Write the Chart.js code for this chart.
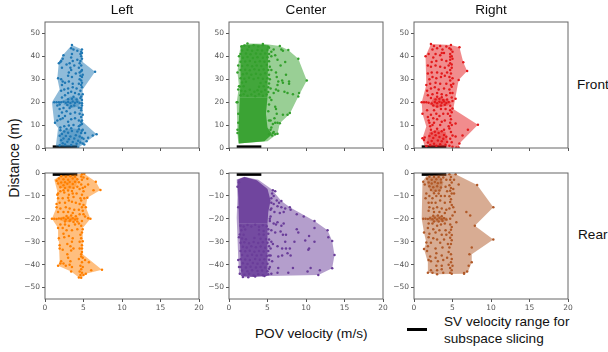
<!DOCTYPE html>
<html>
<head>
<meta charset="utf-8">
<script src="https://cdn.jsdelivr.net/npm/chart.js@4"></script>
<style>
  html, body { margin: 0; background: #fff; }
  body { width: 608px; height: 352px; position: relative; overflow: hidden; font-family: "Liberation Sans", sans-serif; color: #111; }
  canvas { position: absolute; }
  .t { position: absolute; font-size: 13.6px; white-space: nowrap; line-height: 17px; }
</style>
</head>
<body>
<div class="t" style="left:255px;top:325px">POV velocity (m/s)</div>
<div class="t" style="left:444px;top:313px">SV velocity range for<br>subspace slicing</div>
<div class="t" style="left:577px;top:76px">Front</div>
<div class="t" style="left:578px;top:226px">Rear</div>
<div class="t" style="left:14px;top:158px;font-size:14px;transform:translate(-50%,-50%) rotate(-90deg)">Distance (m)</div>
<div style="position:absolute;left:407px;top:328px;width:20px;height:3px;background:#000"></div>
<script>
const xTicks = [0, 5, 10, 15, 20];
const frontTicks = [0, 10, 20, 30, 40, 50];
const rearTicks = [0, -10, -20, -30, -40, -50];
const svRange = [1, 4.2];

const leftFrontHull = [[1.4,0.7],[4.3,0],[6.7,6],[4.9,11.5],[4.9,25.5],[6.5,33.3],[4.9,37.5],[4.8,43],[3.5,45],[2.3,40.5],[1.8,37.5],[1.6,30.5],[1.9,25.5],[0.9,20],[1.2,11],[1.7,8.7]];
const leftFrontBlobs = [
  [[1.9,1],[4.5,1],[4.8,4],[4.7,8],[3.8,8.5],[2.4,8],[1.9,6]],
  [[2.4,19],[3.4,17.5],[4.3,18],[4.6,20],[4.2,22],[3.3,22.5],[2.5,21]]
];
const leftFrontPoints = [[4.9,2],[5,4],[5.4,3],[5.6,4.5],[6.2,5.5],[6.7,6],[4.3,0.2],[5.1,1.5],[5.2,6.5],[4.9,8],[2,9],[2.5,9.5],[3.1,9.8],[3.7,10],[4.4,9.5],[4.8,10.5],[1.3,11],[1.6,12],[2,12.5],[2.3,13],[2.6,14],[3,11.5],[3.4,12.5],[3.9,13],[4.4,12],[4.7,13.5],[1.8,14],[2.2,15.5],[2.8,16],[3.3,15],[3.9,15.5],[4.5,15],[4.7,16.5],[1.9,17],[2.4,17.5],[1.6,18.5],[1.9,19],[4.8,18.5],[4.8,21],[1.2,20],[1.5,20],[1.8,20],[2.1,20],[2.4,20.2],[2.2,22],[2.6,23],[3,24],[3.4,24.5],[3.9,24],[4.4,23.5],[4.7,22.5],[2.1,25],[2.5,25.5],[3,26],[3.6,26.5],[4.1,26],[4.6,25],[4.8,26.5],[4.7,27.5],[4.4,28],[2.2,27.5],[2.6,28.5],[3.1,29],[3.6,28],[4.5,30],[4.6,31.5],[1.7,30.5],[2.1,30],[2.3,29],[3,31.5],[3.5,31],[4,32.5],[4.5,33],[4.8,34],[6.5,33.3],[3.1,33],[3.4,34],[3.3,35],[4.4,35],[4.7,36],[4.5,37],[2.2,35],[3.2,37],[3.6,38],[4.2,38.5],[2,37.5],[1.8,37],[2.1,38],[2.3,39],[2.4,40.5],[3.4,39.5],[3.5,41],[4.7,40],[4.8,41.5],[4.8,43],[4.7,42],[3.5,45],[3.4,43.5],[3.7,43],[4.2,42.5],[3.8,36],[2.8,36.5],
  [1.9,1.2],[2.3,2.1],[2.1,3.4],[2.6,1.5],[2.9,2.7],[2.4,4.2],[1.9,5.3],[2.2,6.1],[2.7,5.2],[3.1,3.8],[3.4,1.3],[3.6,2.6],[3.3,5],[3.8,4.1],[4.1,1.9],[4.3,3.2],[4,5.6],[4.5,5],[4.6,2.4],[4.7,6.6],[2.5,7.2],[3,6.7],[3.5,7.4],[4.2,7.2],[2,7.8],[2.8,8.3],[3.4,8.6],[4.4,8.2],[4.8,4.5],[4.8,7.5],[2.7,19.8],[3,20.1],[3.3,19.6],[3.6,20.3],[3.9,19.7],[4.2,20.2],[4.5,19.6],[2.9,18.8],[3.4,18.2],[3.8,18.6],[4.1,21.2],[3.5,21.5],[3,21.3],[3.7,22.4],[3.2,17.5],[4.4,17.6],[4.6,21.8],[4.8,12],[4.9,14.5],[4.7,17.5],[4.8,19.5],[4.9,23.5],[4.8,28.5],[4.7,29.5],[4.8,31],[4.9,32],[4.7,33.5],[4.6,38],[4.8,39],[4.6,41],[4.7,11.5],[4.6,10]];

const centerFrontHull = [[1.2,2],[5,3],[6.3,6.2],[6.6,10.8],[7.9,15],[9,22.5],[10.1,29.5],[9,39],[7.7,42.8],[6.6,44.5],[4.4,45.5],[2.4,45.6],[1.5,44.6],[1.3,40],[1.1,33],[1.3,27],[1,20],[1.1,6.5]];
const centerFrontBlobs = [
  [[1.3,2],[4.6,3],[5.6,6],[5,9],[4.8,15],[5,22],[1.4,22],[1.2,6]],
  [[1.4,22],[5,22],[5.1,44.8],[3.5,45.3],[1.6,44.8],[1.5,40],[1.5,30]]
];
const centerFrontPoints = [[5.2,6],[5.6,5.5],[6,6],[6.3,6.2],[5.8,7],[5.5,9],[5.7,10.5],[6,11],[6.3,11],[6.6,10.8],[5.4,12],[5.9,13],[6.2,15],[6.1,17],[6,18],[7,14.5],[7.6,14.5],[7.9,15.3],[5.3,22],[5.5,21],[5.8,24],[6.4,25],[7.2,24.5],[7.6,24],[8.3,23.5],[9,22.5],[9.1,24],[6.1,25.5],[5.4,26],[6.4,29],[6.3,27.5],[7,28.5],[7.8,29],[7.8,28],[6.9,29.5],[10.1,29.5],[7.4,32],[6.2,31],[6.1,33],[5.5,34],[6.7,36],[7.3,37.5],[9,39],[6.3,38.5],[6,40.5],[5.5,42],[5.5,40],[6.6,44.5],[6.8,43],[7.7,42.8],[7,42.5],[5.8,43],[1.1,33],[1.2,36],[1.3,40],[1.3,27],[1.2,25.5],[1.1,20],[1,20],[1.1,8],[1.1,6.5],[1.2,11],[1.2,15],
  [1.5,23],[1.9,23.5],[2.4,22.8],[2.9,23.4],[3.4,22.6],[3.9,23.5],[4.4,22.8],[4.9,23.3],[1.6,25],[2.1,24.8],[2.7,25.4],[3.3,24.6],[3.7,25.2],[4.2,24.6],[4.7,25.3],[5.1,24.4],[1.4,26.8],[1.9,27],[3.9,26.7],[4.5,27],[5.1,26.5],[1.7,28.6],[2.2,28.9],[4.1,28.4],[4.8,28.8],[5.2,28.2],[1.5,30.4],[2,30.2],[2.6,30.7],[3.2,30.1],[3.8,30.6],[4.4,30.2],[5,30.5],[1.8,32.2],[2.3,32.5],[2.9,32],[3.5,32.4],[4.1,32.1],[4.7,32.6],[5.2,32],[1.5,34],[2.1,34.2],[2.7,33.9],[3.3,34.4],[3.9,34],[4.5,34.3],[5.1,34.1],[1.7,35.8],[2.4,36.1],[3,35.7],[3.6,36],[4.2,35.8],[4.9,36.2],[1.5,37.6],[2.1,37.8],[2.7,38],[3.4,37.5],[4,37.9],[4.6,37.6],[5.2,37.9],[1.8,39.4],[2.4,39.7],[3.1,39.3],[3.7,39.6],[4.4,39.4],[5,39.6],[1.5,41],[2.2,41.3],[2.8,40.9],[3.5,41.2],[4.1,41],[4.7,41.3],[1.7,42.6],[2.4,42.9],[3,42.5],[3.7,42.8],[4.3,42.6],[5,42.9],[1.6,44.3],[2,44.7],[2.6,44.2],[3.2,44.9],[3.8,44.3],[4.4,44.8],[5.1,44.2],[2.4,45.6],[4.4,45.4],[5.2,43.8],[5.2,41],[5.3,35.5],[5.3,30],[5.2,19],[5.1,16],[5.2,12],[5.4,8],[5.7,6.5]];

const rightFrontHull = [[1.4,0.5],[5.8,0],[5.9,2],[8.3,10.2],[5.1,17],[5.8,29.7],[6.9,33.6],[6.4,37.4],[5.9,44],[4.8,45],[2.2,45.4],[1.5,40],[1.6,27.5],[1,20],[1.1,15],[1.6,9.4],[1.1,4.3]];
const rightFrontBlobs = [
  [[1.7,2],[2.3,1],[4,1],[4.4,3],[4.1,7],[3,8],[2,7],[1.8,5]],
  [[2,19],[3,17.5],[4.4,18.5],[4.9,20],[4,21.5],[2.6,22]]
];
const rightFrontPoints = [[1.1,4.3],[1.3,3.5],[1.4,4.6],[1.6,0.8],[4.6,1],[4.9,2.5],[4.7,4],[5,5.5],[4.8,7],[4.6,8.5],[5,0.5],[5.5,0.2],[5.8,0.2],[5.9,2],[6.3,5.5],[5.4,5],[7,8],[8.3,10.2],[5.4,10.7],[4.9,10],[4.5,9.5],[2.1,9.5],[2.4,10],[2.6,11],[2,11],[1.9,12],[3,12.5],[3.4,10],[3.6,11.5],[4,12],[2.5,13],[1.8,13.5],[2.2,14.5],[2.9,15],[3.3,14],[3.8,15],[4.4,15],[1.1,15],[1.7,16.5],[2.6,16.5],[3.5,17],[4.1,17],[4.7,16.5],[5,17.2],[1,20],[1.3,20],[1.6,20],[1.9,19.8],[5,20.5],[4.9,22],[5.4,21.5],[1.8,23],[2.4,23.5],[3,24],[3.6,23.5],[4.2,23],[4.7,24],[1.7,25],[2.2,26],[2.7,26.5],[3.2,25.5],[3.9,26],[4.6,25.5],[5,24],[1.6,27.5],[2.1,28],[2.8,28.5],[3.4,28],[4.2,28],[4.8,27.5],[5.1,28],[5.8,29.7],[4.7,29.5],[2,30],[2.4,31],[2.9,30.5],[3.5,31],[4,31.5],[4.6,31],[5,30.5],[1.8,32.5],[2.3,33],[3,33],[3.6,32.5],[4.3,33],[4.7,34],[6.9,33.6],[1.8,36],[2.2,35.5],[2.8,36],[3.4,35.5],[4,35],[4.5,36],[4.9,36.5],[6.4,37.4],[2.3,37.5],[2.9,38],[3.6,38.5],[4.2,38],[4.7,38.5],[5,39],[1.5,40],[1.9,41],[2.5,39.5],[2.8,41],[3.4,40.5],[3.6,41.5],[4.7,41],[4.9,40],[5,42],[2.2,45.4],[2.4,43],[3,43.5],[3.4,44.5],[3.7,43],[4.6,43.5],[4.8,45],[5.9,44],[4.2,44.3],[3.9,41.5],[2.6,44.5],
  [1.8,2.4],[2.1,1.3],[2.3,3.1],[2.6,1.9],[2.9,1],[2.5,4.4],[2,5.2],[2.3,6.3],[2.8,5.6],[3.1,3.3],[3.4,1.6],[3.6,2.9],[3.3,4.8],[3.8,4],[4.1,1.4],[4.3,2.6],[3.9,5.7],[4.2,4.9],[2.7,7.1],[3.2,6.6],[3.6,7.3],[2.2,8],[3,8.4],[3.9,8],[2.3,19.4],[2.7,20.1],[3,19.5],[3.3,20.2],[3.6,19.7],[3.9,20.3],[4.2,19.6],[4.5,20.1],[2.5,18.6],[3,18.1],[3.5,18.5],[4,18.9],[2.8,21.2],[3.3,21.5],[3.8,21],[4.3,21.2],[2.2,21.8],[3,22.4],[3.6,22.2],[4.7,18.4],[4.8,12.5],[4.7,14],[4.9,15.6],[4.7,11],[4.9,26.7],[4.8,32.5],[4.9,35],[4.7,37],[4.8,43],[4.7,39.8]];

const leftRearHull = [[1.2,-2.8],[2.1,-1],[5.1,-0.3],[6.6,-3.8],[7.2,-7.4],[5.5,-10.8],[5.3,-15],[5.9,-20],[4.9,-24],[4.9,-35.5],[7.4,-42.2],[5.3,-44],[4.7,-45.7],[4.4,-45.6],[3.4,-43],[1.7,-40.5],[1.9,-38.4],[1.8,-29.7],[1.7,-24],[0.9,-20],[1.5,-15],[1.6,-8]];
const leftRearBlobs = [
  [[1.4,-3],[2,-1.4],[4,-1.2],[4.3,-3],[4,-6],[3,-7.5],[1.8,-6]],
  [[2,-19.2],[3.2,-18.8],[4.2,-19.5],[4.1,-21],[3,-21.5],[2,-20.8]]
];
const leftRearPoints = [[5.1,-0.3],[4.8,-0.5],[5,-2],[5.5,-2.5],[6.6,-3.8],[6.3,-7.5],[7.2,-7.4],[5.6,-5],[5.2,-6],[4.7,-5],[4.5,-7],[5,-8],[4.8,-9.5],[5.5,-10.8],[5.1,-11],[4.6,-11],[4.1,-9],[3.6,-9],[3.1,-9.5],[2.5,-8.5],[2,-8],[1.7,-9],[1.7,-11],[1.5,-13.5],[1.9,-13],[2.3,-11],[2.6,-13],[3.1,-12],[3.5,-12.5],[4,-13],[4.5,-13.5],[5,-14],[5.3,-15],[1.5,-15],[2,-15.5],[2.7,-15],[3.2,-15.5],[3.8,-16],[4.4,-16],[4.9,-16.5],[1.7,-17],[2.4,-17],[3,-17],[3.6,-17.5],[4.5,-18],[5,-18],[5.2,-19],[5.9,-20],[5.6,-19.8],[4.8,-21],[0.9,-20],[4.4,-22],[4.7,-23],[3.9,-22.5],[3.1,-23],[2.6,-22.5],[2,-22.5],[1.7,-24],[2.3,-24],[2.8,-25],[3.5,-25],[4.2,-24.5],[4.9,-24.5],[4.8,-26],[2.4,-26.5],[4.6,-27],[3.1,-27.5],[1.8,-28.5],[2.5,-28],[3.6,-28.5],[4.7,-28.5],[4.5,-30],[3.5,-30],[2.9,-31],[1.9,-31.5],[4.8,-31.5],[3.3,-32],[3.7,-33],[1.9,-33],[2.3,-33.5],[3.4,-33.8],[4.5,-33],[4.8,-34.5],[4.7,-35.5],[2.9,-35.5],[4.9,-37],[3,-37],[4.4,-37.5],[5.2,-38],[2.1,-38.5],[3.3,-38.5],[5.7,-39],[4.8,-39],[2,-39.5],[2.4,-39.5],[3.2,-40],[2.7,-40.5],[4.6,-40.5],[1.7,-40.5],[3.5,-41],[4.7,-42],[7.4,-42.2],[6,-42.5],[4.5,-43],[4.8,-43.5],[5.3,-44],[5,-44.5],[3.4,-43],[4.4,-45.6],[4.7,-45.7],[4.6,-44.5],[1.6,-9.5],[2.6,-4],[4.4,-4],
  [1.5,-3.4],[1.8,-2.4],[2.1,-1.4],[2.4,-2.7],[2.7,-1.6],[3,-2.9],[3.3,-1.4],[3.6,-2.4],[3.9,-1.6],[4.2,-2.7],[1.7,-4.6],[2.1,-4.2],[2.4,-5.3],[2.9,-4.7],[3.2,-3.9],[3.6,-4.8],[3.9,-3.8],[2,-6.2],[2.6,-6.5],[3.2,-6.1],[3.7,-6.6],[4.2,-6],[2.4,-7.5],[3,-7.6],[3.5,-7.9],[1.2,-20],[1.5,-20.1],[1.8,-19.9],[2.1,-20],[2.4,-19.6],[2.7,-20.3],[3,-19.6],[3.3,-20.4],[3.6,-19.7],[3.9,-20.3],[4.2,-20],[2.6,-21.2],[3.2,-21],[3.7,-21.4],[4.2,-21.2],[2.8,-18.8],[3.4,-18.6],[4,-18.9],[4.7,-1.5],[4.8,-3],[4.9,-6.5],[4.7,-12],[4.8,-15],[4.9,-29.8],[4.8,-33],[4.7,-36.5],[4.9,-41],[3.7,-10.5],[3,-10.8]];

const centerRearHull = [[1,-2.8],[2,-1.6],[3.8,-3],[5.5,-7],[6.8,-12.2],[7.9,-15],[11.1,-21],[12.8,-25],[13.4,-29.7],[13.7,-35.8],[13.4,-41.6],[11.6,-44.5],[5,-45],[1.8,-45.6],[1.3,-44],[1.2,-37],[1,-19.5],[1.1,-10.8]];
const centerRearBlobs = [
  [[1.1,-3],[2,-1.8],[3.6,-3.2],[5,-7],[5.4,-12],[5.1,-17],[5,-22],[1.3,-22],[1.2,-10]],
  [[1.3,-22],[5,-22],[5,-45],[3,-45.3],[1.6,-45],[1.5,-38],[1.4,-28]]
];
const centerRearPoints = [[5.7,-7.5],[6,-8],[5.8,-10],[5.5,-11],[6.2,-12],[6.5,-13],[6.8,-12.2],[5.8,-13.5],[6.3,-14.5],[6.8,-15],[7.3,-15.5],[7.9,-15],[8,-16],[5.5,-15.5],[5.9,-17],[6.6,-17.5],[7.1,-17],[8.8,-18],[9.7,-19],[11.1,-21],[5.4,-19],[5.3,-20],[6.3,-21.5],[5.8,-22],[6.1,-22.5],[7.1,-22],[6.8,-23],[5.5,-25],[6,-26],[6.7,-25.5],[7,-27],[7.4,-27],[8.8,-24.5],[9,-26],[11.1,-24],[12.8,-25],[12.9,-28],[13.4,-29.7],[10.4,-27.5],[9.9,-29.5],[11.1,-30],[8.5,-30],[7.3,-30],[5.5,-30],[5.7,-31],[6.3,-32],[5.4,-33],[6.9,-33],[7.4,-33],[7.9,-33],[10.4,-33],[10.3,-33.5],[7.6,-35],[5.4,-36],[6.9,-36],[8,-36],[13.7,-35.8],[6.4,-36.5],[5.6,-38.5],[5.3,-41],[6.4,-41.5],[8.3,-41.5],[10.6,-41.5],[11.8,-42.5],[13.4,-41.6],[10.2,-43],[6.3,-43.5],[7.7,-43.5],[11.6,-44.5],[5.5,-44],[1.3,-28],[1.2,-38],[1.3,-41],
  [1.5,-23],[1.9,-23.4],[2.4,-22.7],[2.9,-23.3],[3.4,-22.6],[3.9,-23.5],[4.4,-22.8],[4.9,-23.2],[1.6,-25],[2.1,-24.7],[3.9,-24.9],[4.5,-25.3],[5.1,-24.6],[1.4,-26.8],[1.9,-27],[3.9,-26.7],[4.5,-27],[5.1,-26.5],[1.7,-28.6],[2.2,-28.9],[3.3,-28.4],[4.1,-28.7],[4.8,-28.8],[1.5,-30.4],[2,-30.2],[2.6,-30.7],[3.2,-30.1],[3.8,-30.6],[4.4,-30.2],[5,-30.5],[1.8,-32.2],[2.3,-32.5],[2.9,-32],[3.5,-32.4],[4.1,-32.1],[4.7,-32.6],[5.2,-32],[1.5,-34],[2.1,-34.2],[2.7,-33.9],[3.3,-34.4],[3.9,-34],[4.5,-34.3],[5.1,-34.1],[1.7,-35.8],[2.4,-36.1],[3,-35.7],[3.6,-36],[4.2,-35.8],[4.9,-36.2],[1.5,-37.6],[2.1,-37.8],[2.7,-38],[3.4,-37.5],[4,-37.9],[4.6,-37.6],[5.2,-37.9],[1.8,-39.4],[2.4,-39.7],[3.1,-39.3],[3.7,-39.6],[4.4,-39.4],[5,-39.6],[1.5,-41],[2.2,-41.3],[2.8,-40.9],[3.5,-41.2],[4.1,-41],[4.7,-41.3],[1.7,-42.6],[2.4,-42.9],[3,-42.5],[3.7,-42.8],[4.3,-42.6],[5,-42.9],[1.4,-44],[2,-44.4],[2.6,-44],[3.2,-44.7],[3.8,-44.2],[4.4,-44.6],[5.1,-44.2],[1.8,-45.4],[2.5,-45.5],[3.4,-45.2],[4.6,-45],[5.2,-41.8],[5.2,-36],[5.2,-29],[5.3,-21],[5.4,-16],[5.5,-13],[5.6,-9],[1.2,-15],[1.1,-6],[1.3,-4]];

const rightRearHull = [[1.1,-3.8],[1.6,-1.3],[4.4,-0.3],[5.4,-0.6],[8.2,-5.2],[10.3,-15],[7.9,-23],[10.3,-29],[7.5,-35.5],[7.5,-39],[7,-43.2],[6.5,-44],[3,-44.2],[1.8,-43.5],[1.8,-39],[1.3,-33.2],[1.6,-30.3],[1.3,-26],[1,-20]];
const rightRearBlobs = [
  [[1.6,-2],[3.4,-1.5],[3.8,-4],[3.5,-8],[2.4,-8.5],[1.8,-6]],
  [[1.9,-19],[3,-18.4],[4.3,-19.5],[4.4,-21],[3,-21.5],[2,-21]]
];
const rightRearPoints = [[5.4,-0.6],[5.2,-3],[5.8,-5],[8.2,-5.2],[5.1,-7],[5.2,-9],[5.1,-15],[5.3,-17],[6.8,-17],[7.3,-18.5],[5.5,-21.5],[7.9,-23],[10.3,-15],[10.3,-29],[7.5,-32.5],[7.2,-35.5],[7.5,-39],[7.1,-40.5],[6.9,-43],[6.5,-44],[1.2,-3.8],[1.4,-5],[1.6,-9],[1.5,-11],[2,-10],[2.4,-11],[2.9,-10],[3.5,-10],[4,-10],[4.3,-8],[4.1,-6],[4.2,-3],[1.9,-13],[2.3,-13],[2.8,-13],[3.4,-12],[4,-13],[2,-15],[2.5,-15.5],[3,-15],[3.6,-15.5],[4.2,-16],[1.9,-16.5],[2.6,-17],[3.3,-17],[4,-17.5],[5,-18.5],[1.9,-22],[2.4,-22],[3,-23],[3.5,-22.5],[4,-22],[1.8,-24],[2.5,-24.5],[3.3,-25],[4.1,-25],[1.3,-26],[2,-26.5],[2.8,-26],[3.6,-27],[4.2,-27],[1.9,-28],[2.5,-28.5],[3,-29],[3.9,-29],[1.6,-30.3],[2.2,-30.5],[3.4,-30.5],[4.4,-31],[4.8,-31],[4.6,-32.5],[1.8,-32],[2.8,-33],[3.7,-32.5],[1.3,-33.2],[1.7,-34],[2.9,-35],[4.5,-34.5],[4.8,-35.5],[3.6,-36],[2.1,-36.5],[2.8,-37],[4.3,-37],[4.9,-37.5],[1.9,-38],[2.2,-38.5],[3.1,-38.5],[3.8,-38],[4.8,-39],[4.5,-40],[5,-40.5],[2.9,-40.5],[3.6,-40.5],[4.7,-41.5],[2.2,-42.5],[3,-42.5],[3.6,-42],[4.9,-42.5],[1.8,-43.5],[2.4,-43.5],[3,-44.2],[3.8,-43.5],[4.9,-44],[4.7,-43.5],[6.5,-43.7],
  [1.7,-2.5],[2,-1.6],[2.3,-2.9],[2.6,-1.8],[2.9,-2.7],[3.2,-1.7],[3.5,-2.8],[3.8,-2],[1.9,-4.2],[2.3,-4.6],[2.7,-3.9],[3.1,-4.5],[3.5,-4.1],[2,-5.8],[2.5,-6.2],[3,-5.8],[3.5,-6.3],[2.2,-7.4],[2.8,-7.7],[3.3,-7.6],[2.6,-8.8],[3.2,-8.9],[1.2,-20],[1.5,-20],[1.8,-20.1],[2.1,-19.8],[2.4,-20.2],[2.7,-19.5],[3,-20.3],[3.3,-19.6],[3.6,-20.2],[3.9,-19.7],[4.2,-20.3],[2.5,-18.7],[3.1,-18.6],[3.6,-18.9],[2.6,-21.2],[3.2,-21.2],[3.7,-21],[4.6,-0.6],[4.8,-1.8],[4.7,-3],[4.9,-4.2],[4.6,-5.4],[4.8,-6.5],[4.7,-7.8],[4.9,-9],[4.6,-10.2],[4.8,-11.5],[4.7,-12.7],[4.9,-14],[4.7,-22.5],[4.9,-23.6],[4.8,-24.8],[4.6,-26],[4.9,-27.1],[4.7,-28.3],[4.9,-29.4],[4.7,-20],[4.6,-15.5]];

const panels = [
  { title: 'Left', left: 45, top: 22, color: '#1f78b4', rgb: '31,120,180', hull: leftFrontHull, blobs: leftFrontBlobs, points: leftFrontPoints, rear: false, blobAlpha: [0.4, 0.4] },
  { title: 'Center', left: 229, top: 22, color: '#33a02c', rgb: '51,160,44', hull: centerFrontHull, blobs: centerFrontBlobs, points: centerFrontPoints, rear: false, blobAlpha: [0.92, 0.86] },
  { title: 'Right', left: 414, top: 22, color: '#e31a1c', rgb: '227,26,28', hull: rightFrontHull, blobs: rightFrontBlobs, points: rightFrontPoints, rear: false, blobAlpha: [0.4, 0.4] },
  { title: '', left: 45, top: 173, color: '#ff7f00', rgb: '255,127,0', hull: leftRearHull, blobs: leftRearBlobs, points: leftRearPoints, rear: true, blobAlpha: [0.4, 0.4] },
  { title: '', left: 229, top: 173, color: '#6a3d9a', rgb: '106,61,154', hull: centerRearHull, blobs: centerRearBlobs, points: centerRearPoints, rear: true, blobAlpha: [0.92, 0.86] },
  { title: '', left: 414, top: 173, color: '#b15928', rgb: '177,89,40', hull: rightRearHull, blobs: rightRearBlobs, points: rightRearPoints, rear: true, blobAlpha: [0.4, 0.4] }
];

const toXY = list => list.map(p => ({ x: p[0], y: p[1] }));

// spines on all four sides
const frame = {
  id: 'frame',
  afterDraw(chart) {
    const a = chart.chartArea, c = chart.ctx;
    c.save();
    c.strokeStyle = '#666';
    c.lineWidth = 1;
    c.strokeRect(a.left, a.top, a.right - a.left, a.bottom - a.top);
    c.restore();
  }
};

panels.forEach(p => {
  const cv = document.createElement('canvas');
  const padL = 40, padT = 6, padR = 12, padB = 20;
  cv.width = 154 + padL + padR;
  cv.height = 126 + padT + padB;
  cv.style.left = (p.left - padL) + 'px';
  cv.style.top = (p.top - padT) + 'px';
  document.body.appendChild(cv);

  const barY = p.rear ? -0.6 : 0.5;
  const shapes = [
    { data: toXY(p.hull), showLine: true, tension: 0, fill: 'shape', backgroundColor: `rgba(${p.rgb},0.5)`, borderWidth: 0, pointRadius: 0 }
  ].concat(p.blobs.map((b, i) => (
    { data: toXY(b), showLine: true, tension: 0, fill: 'shape', backgroundColor: `rgba(${p.rgb},${p.blobAlpha[i]})`, borderWidth: 0, pointRadius: 0 }
  )));

  new Chart(cv, {
    type: 'scatter',
    data: {
      datasets: shapes.concat([
        { data: toXY(p.points), backgroundColor: p.color, borderWidth: 0, pointRadius: 1.25 },
        { data: svRange.map(v => ({ x: v, y: barY })), showLine: true, borderColor: '#000', borderWidth: 3, pointRadius: 0 }
      ])
    },
    plugins: [frame],
    options: {
      responsive: false,
      animation: false,
      devicePixelRatio: 1,
      layout: { padding: { left: 0, top: padT, right: padR, bottom: 0 } },
      plugins: {
        legend: { display: false },
        tooltip: { enabled: false }
      },
      scales: {
        x: {
          type: 'linear', min: 0, max: 20,
          afterBuildTicks: s => { s.ticks = xTicks.map(v => ({ value: v })); },
          afterFit: s => { s.height = padB; s.paddingLeft = 0; s.paddingRight = 0; },
          border: { display: false },
          grid: { drawOnChartArea: false, drawTicks: true, tickLength: 3, color: '#555' },
          ticks: { display: p.rear, maxRotation: 0, padding: 2, color: '#555', font: { family: 'DejaVu Sans', size: 7.5 } }
        },
        y: {
          type: 'linear', min: p.rear ? -55 : 0, max: p.rear ? 0 : 55,
          afterBuildTicks: s => { s.ticks = (p.rear ? rearTicks : frontTicks).map(v => ({ value: v })); },
          afterFit: s => { s.width = padL; s.paddingTop = 0; s.paddingBottom = 0; },
          border: { display: false },
          grid: { drawOnChartArea: false, drawTicks: true, tickLength: 3, color: '#555' },
          ticks: { padding: 2, color: '#555', font: { family: 'DejaVu Sans', size: 7.5 }, callback: v => String(v).replace('-', '\u2212') }
        }
      }
    }
  });
});

// column titles
panels.filter(p => p.title).forEach(p => {
  const d = document.createElement('div');
  d.className = 't';
  d.textContent = p.title;
  d.style.left = (p.left + 77) + 'px';
  d.style.top = '1px';
  d.style.transform = 'translateX(-50%)';
  document.body.appendChild(d);
});
</script>
</body>
</html>
